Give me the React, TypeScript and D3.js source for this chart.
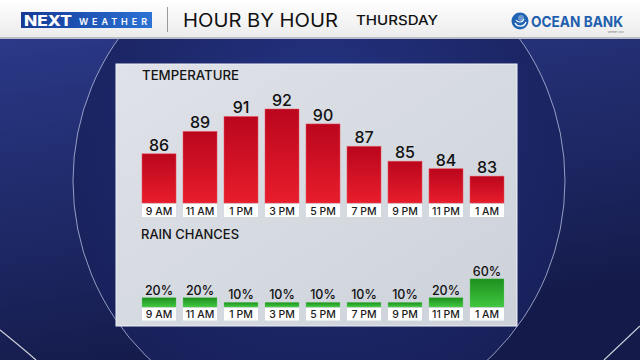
import React from "react";
import * as d3 from "d3";

const hours = ["9 AM", "11 AM", "1 PM", "3 PM", "5 PM", "7 PM", "9 PM", "11 PM", "1 AM"];
const temps = [86, 89, 91, 92, 90, 87, 85, 84, 83];
const rain = [20, 20, 10, 10, 10, 10, 10, 20, 60];

const W = 640;
const H = 360;
const FONT = "Inter, 'Open Sans', sans-serif";

const App = () => {
  const x = d3.scaleBand<string>().domain(hours).range([142, 504]).paddingInner(0.17).paddingOuter(0);

  // temperature bars sit on a baseline at y=203
  const tempBase = 203;
  const yTemp = d3.scaleLinear().domain([79.4, 92]).range([tempBase, 109]);

  const rainBase = 307;
  const yRain = d3.scaleLinear().domain([0, 100]).range([rainBase, 260]);

  const bw = x.bandwidth();

  return (
    <div style={{ position: "fixed", left: 0, top: 0 }}>
      <svg width={W} height={H} style={{ display: "block" }}>
        <defs>
          <linearGradient id="bg" x1="0" y1="0" x2="0.3" y2="1">
            <stop offset="0" stopColor="#2d3c8e" />
            <stop offset="1" stopColor="#141b4a" />
          </linearGradient>
          <radialGradient id="disc" cx="0.5" cy="0.35" r="0.6">
            <stop offset="0" stopColor="#243281" />
            <stop offset="1" stopColor="#18215a" />
          </radialGradient>
          <linearGradient id="hdr" x1="0" y1="0" x2="0" y2="1">
            <stop offset="0" stopColor="#ffffff" />
            <stop offset="1" stopColor="#ebebeb" />
          </linearGradient>
          <linearGradient id="panel" x1="0" y1="0" x2="1" y2="1">
            <stop offset="0" stopColor="#dfe2e8" />
            <stop offset="1" stopColor="#cdd2da" />
          </linearGradient>
          <linearGradient id="red" x1="0" y1="0" x2="0" y2="1">
            <stop offset="0" stopColor="#ba061d" />
            <stop offset="1" stopColor="#e81d2c" />
          </linearGradient>
          <linearGradient id="green" x1="0" y1="0" x2="0" y2="1">
            <stop offset="0" stopColor="#1e901e" />
            <stop offset="1" stopColor="#40c63f" />
          </linearGradient>
          <linearGradient id="nxt" x1="0" y1="0" x2="1" y2="0">
            <stop offset="0" stopColor="#163a93" />
            <stop offset="0.4" stopColor="#1c4fb0" />
            <stop offset="1" stopColor="#2c73d4" />
          </linearGradient>
        </defs>

        {/* background */}
        <rect x={0} y={0} width={W} height={H} fill="url(#bg)" />
        <circle cx={319} cy={181} r={246} fill="url(#disc)" stroke="#c9d0ee" strokeOpacity={0.7} strokeWidth={1} />
        <path d="M0,330 Q20,346 36,360" fill="none" stroke="#ffffff" strokeOpacity={0.8} strokeWidth={1.2} />
        <path d="M604,360 Q622,343 640,326" fill="none" stroke="#ffffff" strokeOpacity={0.8} strokeWidth={1.2} />

        {/* header */}
        <rect x={0} y={0} width={W} height={38} fill="url(#hdr)" />
        <rect x={0} y={37} width={W} height={2} fill="#b9bcc6" />
        <rect x={21} y={12} width={131} height={16} fill="url(#nxt)" />
        <text x={24} y={25.5} fill="#fff" fontFamily={FONT} fontWeight={800} fontSize={14} textLength={48} lengthAdjust="spacingAndGlyphs">
          NEXT
        </text>
        <text x={79} y={24.5} fill="#fff" fontFamily={FONT} fontWeight={600} fontSize={9} textLength={68} lengthAdjust="spacing">
          WEATHER
        </text>
        <rect x={167} y={7} width={1} height={25} fill="#9a9a9a" />
        <text x={183} y={27} fill="#111" fontFamily={FONT} fontWeight={400} fontSize={18.5} textLength={155} lengthAdjust="spacingAndGlyphs">
          HOUR BY HOUR
        </text>
        <text x={356} y={25} fill="#111" fontFamily={FONT} fontWeight={500} fontSize={13.5} textLength={82} lengthAdjust="spacingAndGlyphs">
          THURSDAY
        </text>
        <g transform="translate(520,21)">
          <circle r={8.5} fill="#1f64b3" />
          <path d="M-5,2 A6,6 0 0 0 6,1" fill="none" stroke="#fff" strokeWidth={1.4} />
          <path d="M-4,-1 A4.5,4.5 0 0 0 4,-2" fill="none" stroke="#fff" strokeWidth={1.1} />
          <circle r={3} fill="#fff" cx={1} cy={-3} opacity={0.35} />
        </g>
        <text x={531} y={27} fill="#1f5fae" fontFamily={FONT} fontWeight={700} fontSize={15} textLength={92} lengthAdjust="spacingAndGlyphs">
          OCEAN BANK
        </text>
        <text x={624} y={33} fill="#777" fontFamily={FONT} fontSize={2.5} textAnchor="end">
          Member FDIC
        </text>

        {/* panel */}
        <rect x={116} y={64} width={401} height={262} fill="url(#panel)" stroke="#eef0f5" strokeWidth={1} />

        <text x={142} y={80} fill="#141414" fontFamily={FONT} fontWeight={500} fontSize={12.5} textLength={97} lengthAdjust="spacingAndGlyphs">
          TEMPERATURE
        </text>
        <text x={141} y={239} fill="#141414" fontFamily={FONT} fontWeight={500} fontSize={12.5} textLength={98} lengthAdjust="spacingAndGlyphs">
          RAIN CHANCES
        </text>

        {/* temperature bars */}
        {hours.map((h, i) => {
          const x0 = x(h) as number;
          const top = yTemp(temps[i]);
          return (
            <g key={"t" + h}>
              <rect x={x0} y={top} width={bw} height={tempBase - top} fill="url(#red)" stroke="#ef5560" strokeOpacity={0.6} strokeWidth={0.8} />
              <text x={x0 + bw / 2} y={top - 3} textAnchor="middle" fill="#111" fontFamily={FONT} fontWeight={500} fontSize={16}>
                {temps[i]}
              </text>
              <rect x={x0} y={tempBase + 1} width={bw} height={13} fill="#ffffff" />
              <text x={x0 + bw / 2} y={tempBase + 11.5} textAnchor="middle" fill="#1a1a1a" fontFamily={FONT} fontWeight={500} fontSize={10.5}>
                {h}
              </text>
            </g>
          );
        })}

        {/* rain bars */}
        {hours.map((h, i) => {
          const x0 = x(h) as number;
          const top = yRain(rain[i]);
          return (
            <g key={"r" + h}>
              <rect x={x0} y={top} width={bw} height={rainBase - top} fill="url(#green)" stroke="#7bd87b" strokeOpacity={0.5} strokeWidth={0.6} />
              <text x={x0 + bw / 2} y={top - 3} textAnchor="middle" fill="#111" fontFamily={FONT} fontWeight={500} fontSize={12.5}>
                {rain[i] + "%"}
              </text>
              <rect x={x0} y={rainBase + 1} width={bw} height={12.5} fill="#ffffff" />
              <text x={x0 + bw / 2} y={rainBase + 11} textAnchor="middle" fill="#1a1a1a" fontFamily={FONT} fontWeight={500} fontSize={10.5}>
                {h}
              </text>
            </g>
          );
        })}
      </svg>
    </div>
  );
};

export default App;
